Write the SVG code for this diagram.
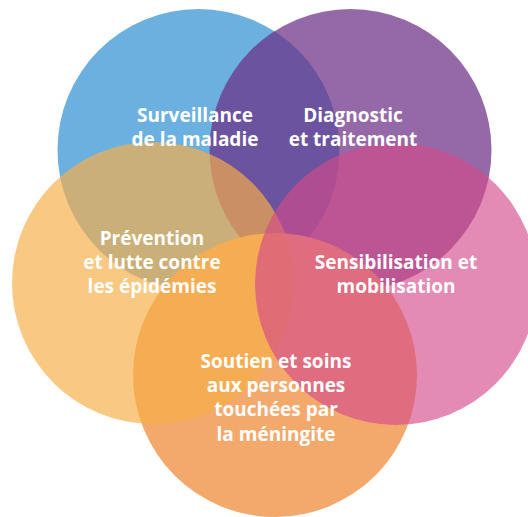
<svg xmlns="http://www.w3.org/2000/svg" width="528" height="517" viewBox="0 0 528 517">
<style>
.lbl{font-family:"Open Sans","Liberation Sans",sans-serif;font-weight:700;font-size:19px;fill:#ffffff;text-anchor:middle}
</style>
<rect width="528" height="517" fill="#ffffff"/>
<g id="connectors"/>
<g id="node-surveillance"><circle cx="198.5" cy="150" r="141" fill="#6cb0e0"/></g>
<g id="node-diagnostic"><circle cx="350.5" cy="150" r="141" fill="#6c2f86" fill-opacity="0.72"/></g>
<g id="node-soutien"><circle cx="275" cy="375" r="142" fill="#f4a96c"/></g>
<g id="node-prevention"><circle cx="153" cy="283" r="141" fill="#f6ae47" fill-opacity="0.68"/></g>
<g id="node-sensibilisation"><circle cx="396" cy="284" r="141" fill="#d34a8a" fill-opacity="0.64"/></g>
<g id="labels">
<text id="label-surveillance" class="lbl"><tspan x="195" y="122">Surveillance</tspan><tspan x="195" y="146">de la maladie</tspan></text>
<text id="label-diagnostic" class="lbl"><tspan x="353" y="122">Diagnostic</tspan><tspan x="353" y="146">et traitement</tspan></text>
<text id="label-prevention" class="lbl"><tspan x="152" y="245">Prévention</tspan><tspan x="152" y="269">et lutte contre</tspan><tspan x="152" y="293">les épidémies</tspan></text>
<text id="label-sensibilisation" class="lbl"><tspan x="396" y="269">Sensibilisation et</tspan><tspan x="396" y="293">mobilisation</tspan></text>
<text id="label-soutien" class="lbl"><tspan x="276" y="368">Soutien et soins</tspan><tspan x="276" y="392">aux personnes</tspan><tspan x="276" y="416">touchées par</tspan><tspan x="276" y="441">la méningite</tspan></text>
</g>
</svg>
